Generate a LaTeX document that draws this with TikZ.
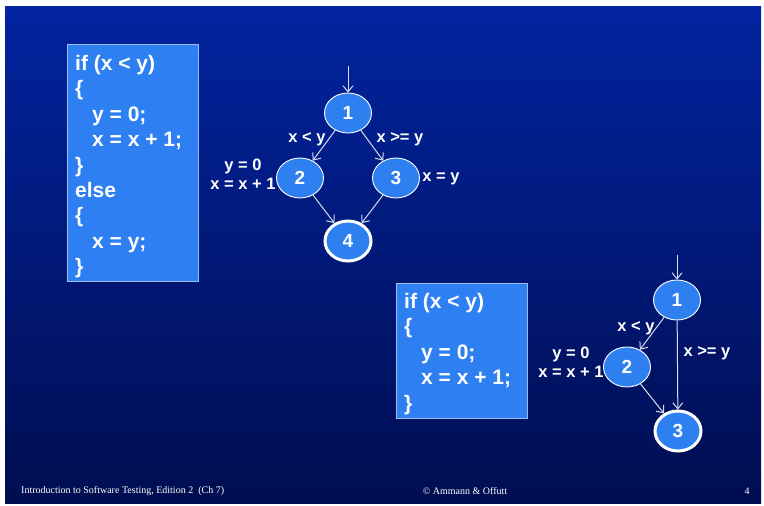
\documentclass[tikz,border=0pt]{standalone}
\usepackage{fontspec}
\setmainfont{Liberation Sans}
\newfontfamily\footfont{Liberation Serif}
\usetikzlibrary{arrows.meta,shapes.geometric}

\definecolor{slidetop}{RGB}{2,36,160}
\definecolor{slidebot}{RGB}{0,13,80}
\definecolor{boxfill}{RGB}{46,128,242}
\definecolor{boxedge}{RGB}{160,188,240}
\definecolor{nodefill}{RGB}{46,128,240}
\definecolor{edgecol}{RGB}{215,222,240}

\tikzset{
  codebox/.style={draw=boxedge, fill=boxfill, line width=1pt, inner sep=0pt, anchor=north west},
  codetext/.style={text=white, align=left, anchor=north west, inner sep=0pt,
    font=\fontsize{21}{25.4}\selectfont\bfseries},
  cfgnode/.style={ellipse, draw=white, fill=nodefill, line width=0.9pt,
    minimum width=47pt, minimum height=40pt, inner sep=0pt, text=white,
    font=\fontsize{19}{19}\selectfont\bfseries},
  finalnode/.style={cfgnode, line width=3pt, minimum width=46pt, minimum height=40pt},
  edgelabel/.style={text=white, inner sep=0pt, font=\fontsize{16.5}{19}\selectfont\bfseries},
  flow/.style={draw=edgecol, line width=1pt, -{Straight Barb[length=6pt,width=10pt,line width=1pt]}},
  foot/.style={text=white, inner sep=0pt, font=\footfont\fontsize{10}{12}\selectfont}
}

\begin{document}
\begin{tikzpicture}[x=1pt,y=-1pt]
\useasboundingbox (0,0) rectangle (764,506);
\fill[white] (0,0) rectangle (764,506);
\shade[top color=slidetop, bottom color=slidebot] (5,6) rectangle (761,503);

% ---- first program: if / else ----
\node[codebox, minimum width=131pt, minimum height=237pt] (code1) at (67,44) {};
\node[codetext] (code1text) at (75,55) {if (x < y)\\
{\{}\\
\hspace*{17pt}y = 0;\\
\hspace*{17pt}x = x + 1;\\
\}\\
else\\
\{\\
\hspace*{17pt}x = y;\\
\}};

% control flow graph of the if / else
\coordinate (a0) at (348,66);
\node[cfgnode]   (a1) at (348,113) {1};
\node[cfgnode]   (a2) at (300,178) {2};
\node[cfgnode]   (a3) at (396,178) {3};
\node[finalnode] (a4) at (348,241) {4};

\draw[flow] (a0) -- (a1);
\draw[flow] (a1) -- (a2);
\draw[flow] (a1) -- (a3);
\draw[flow] (a2) -- (a4);
\draw[flow] (a3) -- (a4);

\node[edgelabel] (la12) at (307,139) {x < y};
\node[edgelabel] (la13) at (400,139) {x >= y};
\node[edgelabel, align=center] (la2) at (243,174) {y = 0\\x = x + 1};
\node[edgelabel] (la3) at (441,179) {x = y};

% ---- second program: if without else ----
\node[codebox, minimum width=131pt, minimum height=135pt] (code2) at (396,283) {};
\node[codetext] (code2text) at (404,293) {if (x < y)\\
\{\\
\hspace*{17pt}y = 0;\\
\hspace*{17pt}x = x + 1;\\
\}};

% control flow graph of the if
\coordinate (b0) at (677,255);
\node[cfgnode]   (b1) at (677,300) {1};
\node[cfgnode]   (b2) at (627,367) {2};
\node[finalnode] (b3) at (678,431) {3};

\draw[flow] (b0) -- (b1);
\draw[flow] (b1) -- (b2);
\draw[flow] (b1) -- (b3);
\draw[flow] (b2) -- (b3);

\node[edgelabel] (lb12) at (636,328) {x < y};
\node[edgelabel] (lb13) at (707,353) {x >= y};
\node[edgelabel, align=center] (lb2) at (571,362) {y = 0\\x = x + 1};

% ---- footer ----
\node[foot, anchor=west] (f1) at (21,491) {Introduction to Software Testing, Edition 2\ \ (Ch 7)};
\node[foot] (f2) at (465,491) {© Ammann \& Offutt};
\node[foot] (f3) at (747,491) {4};
\end{tikzpicture}
\end{document}
